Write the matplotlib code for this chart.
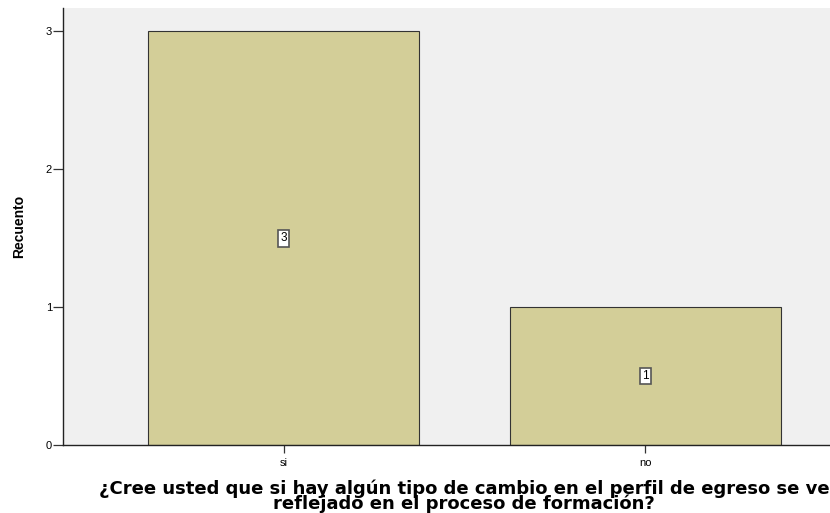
import matplotlib.pyplot as plt

categorias = ["si", "no"]
recuento = [3, 1]
titulo = ("¿Cree usted que si hay algún tipo de cambio en el perfil de egreso se ve\n"
          "reflejado en el proceso de formación?")

fig = plt.figure(figsize=(8.3, 5.13), dpi=100)
# eje un poco mas ancho que la figura, como en el original recortado
ax = fig.add_axes([63 / 830, 68 / 513, 794 / 830, 437 / 513])
ax.set_facecolor("#F0F0F0")

pos = list(range(len(categorias)))
ax.bar(pos, recuento, width=0.75, color="#D3CE98", edgecolor="#333333", linewidth=0.8)

for x, v in zip(pos, recuento):
    ax.text(x, v / 2, str(v), ha="center", va="center", fontsize=8.5,
            family="Liberation Sans",
            bbox=dict(boxstyle="square,pad=0.2", facecolor="white",
                      edgecolor="#555555", linewidth=1.2))

ax.set_xlim(-0.61, 1.585)
ax.set_ylim(0, 3.17)
ax.set_yticks([0, 1, 2, 3])
ax.set_xticks(pos)
ax.set_xticklabels(categorias)
for lab in ax.get_xticklabels() + ax.get_yticklabels():
    lab.set_family("Liberation Sans")
ax.tick_params(axis="both", labelsize=8, width=0.9, color="#333333")
ax.tick_params(axis="x", length=6, pad=3)
ax.tick_params(axis="y", length=7, pad=1)

for s in ["top", "right"]:
    ax.spines[s].set_visible(False)
for s in ["left", "bottom"]:
    ax.spines[s].set_color("#222222")
    ax.spines[s].set_linewidth(1.0)

ax.set_ylabel("Recuento", fontsize=10, fontweight="bold", family="Liberation Sans",
              labelpad=14)

fig.text(464 / 830, 1 - 480 / 513, titulo, ha="center", va="top",
         fontsize=13, fontweight="bold", linespacing=0.75)

fig.savefig("out.png", dpi=100)
